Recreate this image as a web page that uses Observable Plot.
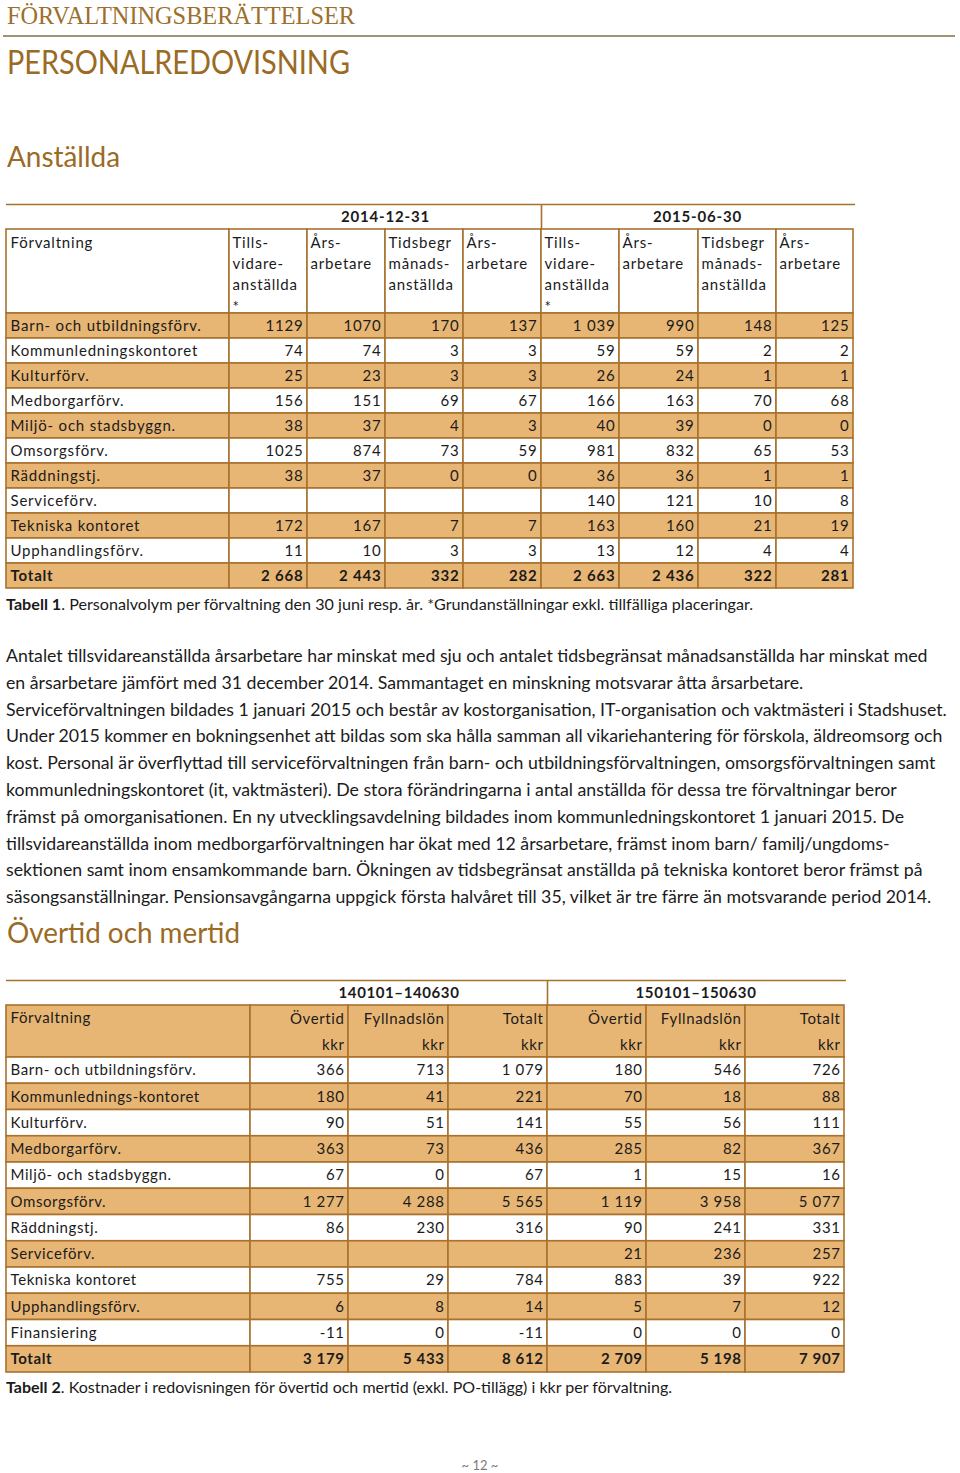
<!DOCTYPE html>
<html><head><meta charset="utf-8">
<script src="https://cdn.jsdelivr.net/npm/d3@7"></script>
<script src="https://cdn.jsdelivr.net/npm/@observablehq/plot@0.6"></script>
<style>
body{margin:0;background:#fff;}
#page{position:relative;width:960px;height:1473px;overflow:hidden;font-family:Lato,"Open Sans",sans-serif;color:#1b1b1b;background:#fff;}
.abs{position:absolute;white-space:nowrap;line-height:1;}
.mk{display:inline-block;width:0;height:0;vertical-align:baseline;}
svg{position:absolute;left:0;}
</style></head><body><div id="page"></div>
<script>
// ---------- DATA ----------
const groups1 = ["2014-12-31", "2015-06-30"];
const colHeads1 = ["Tills-\nvidare-\nanställda\n*", "Års-\narbetare", "Tidsbegr\nmånads-\nanställda", "Års-\narbetare"];
const forvaltningar1 = ["Barn- och utbildningsförv.", "Kommunledningskontoret", "Kulturförv.", "Medborgarförv.", "Miljö- och stadsbyggn.", "Omsorgsförv.", "Räddningstj.", "Serviceförv.", "Tekniska kontoret", "Upphandlingsförv.", "Totalt"];
const tillsvidare2014 = [1129, 74, 25, 156, 38, 1025, 38, null, 172, 11, 2668];
const arsarbetare2014a = [1070, 74, 23, 151, 37, 874, 37, null, 167, 10, 2443];
const tidsbegr2014 = [170, 3, 3, 69, 4, 73, 0, null, 7, 3, 332];
const arsarbetare2014b = [137, 3, 3, 67, 3, 59, 0, null, 7, 3, 282];
const tillsvidare2015 = [1039, 59, 26, 166, 40, 981, 36, 140, 163, 13, 2663];
const arsarbetare2015a = [990, 59, 24, 163, 39, 832, 36, 121, 160, 12, 2436];
const tidsbegr2015 = [148, 2, 1, 70, 0, 65, 1, 10, 21, 4, 322];
const arsarbetare2015b = [125, 2, 1, 68, 0, 53, 1, 8, 19, 4, 281];

const groups2 = ["140101–140630", "150101–150630"];
const colHeads2 = ["Övertid\nkkr", "Fyllnadslön\nkkr", "Totalt\nkkr"];
const forvaltningar2 = ["Barn- och utbildningsförv.", "Kommunlednings-kontoret", "Kulturförv.", "Medborgarförv.", "Miljö- och stadsbyggn.", "Omsorgsförv.", "Räddningstj.", "Serviceförv.", "Tekniska kontoret", "Upphandlingsförv.", "Finansiering", "Totalt"];
const overtid14 = [366, 180, 90, 363, 67, 1277, 86, null, 755, 6, -11, 3179];
const fyllnad14 = [713, 41, 51, 73, 0, 4288, 230, null, 29, 8, 0, 5433];
const totalt14 = [1079, 221, 141, 436, 67, 5565, 316, null, 784, 14, -11, 8612];
const overtid15 = [180, 70, 55, 285, 1, 1119, 90, 21, 883, 5, 0, 2709];
const fyllnad15 = [546, 18, 56, 82, 15, 3958, 241, 236, 39, 7, 0, 5198];
const totalt15 = [726, 88, 111, 367, 16, 5077, 331, 257, 922, 12, 0, 7907];

const paragraphLines = [
  "Antalet tillsvidareanställda årsarbetare har minskat med sju och antalet tidsbegränsat månadsanställda har minskat med",
  "en årsarbetare jämfört med 31 december 2014. Sammantaget en minskning motsvarar åtta årsarbetare.",
  "Serviceförvaltningen bildades 1 januari 2015 och består av kostorganisation, IT-organisation och vaktmästeri i Stadshuset.",
  "Under 2015 kommer en bokningsenhet att bildas som ska hålla samman all vikariehantering för förskola, äldreomsorg och",
  "kost. Personal är överflyttad till serviceförvaltningen från barn- och utbildningsförvaltningen, omsorgsförvaltningen samt",
  "kommunledningskontoret (it, vaktmästeri). De stora förändringarna i antal anställda för dessa tre förvaltningar beror",
  "främst på omorganisationen. En ny utvecklingsavdelning bildades inom kommunledningskontoret 1 januari 2015. De",
  "tillsvidareanställda inom medborgarförvaltningen har ökat med 12 årsarbetare, främst inom barn/ familj/ungdoms-",
  "sektionen samt inom ensamkommande barn. Ökningen av tidsbegränsat anställda på tekniska kontoret beror främst på",
  "säsongsanställningar. Pensionsavgångarna uppgick första halvåret till 35, vilket är tre färre än motsvarande period 2014."
];

// ---------- STYLE / LAYOUT ----------
const headColor = "#9b6a25";
const fillOrange = "#e8b674";
const border = "#a8722e";
const ink = "#1b1b1b";
const page = document.getElementById("page");

function addText(content, {left, baseline, size, family = "Lato", color = ink, weight = 400, width = null, center = false}) {
  const el = document.createElement("div");
  el.className = "abs";
  el.style.fontFamily = family;
  el.style.fontSize = size + "px";
  el.style.color = color;
  el.style.fontWeight = weight;
  el.innerHTML = content + '<span class="mk"></span>';
  el.style.left = left + "px";
  el.style.top = "0px";
  page.appendChild(el);
  const base = el.querySelector(".mk").getBoundingClientRect().top - el.getBoundingClientRect().top;
  el.style.top = (baseline - base) + "px";
  const w = el.getBoundingClientRect().width;
  if (width) { el.style.transformOrigin = "0 0"; el.style.transform = `scaleX(${width / w})`; }
  if (center) el.style.left = (left - w / 2) + "px";
  return el;
}

// Headings
addText("FÖRVALTNINGSBERÄTTELSER", {left: 7, baseline: 24, size: 26, family: "Liberation Serif", color: "#9c6f2c", width: 348});
const rule = document.createElement("div");
Object.assign(rule.style, {position: "absolute", left: "3px", top: "35px", width: "952px", height: "2px", background: "#a39274"});
page.appendChild(rule);
addText("PERSONALREDOVISNING", {left: 7, baseline: 74, size: 32, color: headColor, width: 343});
addText("Anställda", {left: 7, baseline: 167, size: 28, color: headColor, width: 113});
addText("Övertid och mertid", {left: 7, baseline: 943, size: 28, color: headColor, width: 233});

// Captions
addText("<b>Tabell 1</b>. Personalvolym per förvaltning den 30 juni resp. år. *Grundanställningar exkl. tillfälliga placeringar.", {left: 6, baseline: 610, size: 15, width: 747});
addText("<b>Tabell 2</b>. Kostnader i redovisningen för övertid och mertid (exkl. PO-tillägg) i kkr per förvaltning.", {left: 6, baseline: 1393, size: 15, width: 666});
addText("~ 12 ~", {left: 480, baseline: 1470, size: 13, color: "#7a7a7a", center: true});

// Paragraph
(function () {
  const probe = addText(paragraphLines[2], {left: 6, baseline: 0, size: 17});
  const w = probe.getBoundingClientRect().width;
  probe.remove();
  const size = 17 * 941 / w;
  paragraphLines.forEach((line, i) => addText(line, {left: 6, baseline: 662 + i * 26.8, size}));
})();

// Number formatting
const fmtGroup = d3.formatLocale({decimal: ",", thousands: " ", grouping: [3], currency: ["", " kr"], minus: "-"}).format(",d");
const fmtPlain = d3.format("d");

// ---------- TABLE 1 ----------
(function () {
  const top = 200, H = 392, W = 860;
  const edges = [6, 229, 307, 385, 463, 541, 619, 698, 776, 853];
  const groupY = [204, 229], headY = [229, 313], rowH = 25;
  const cols = [tillsvidare2014, arsarbetare2014a, tidsbegr2014, arsarbetare2014b, tillsvidare2015, arsarbetare2015a, tidsbegr2015, arsarbetare2015b];
  const nRows = forvaltningar1.length;
  const rects = [], texts = [];
  for (let c = 0; c < edges.length - 1; c++) rects.push({x1: edges[c], x2: edges[c + 1], y1: headY[0], y2: headY[1], fill: "white"});
  forvaltningar1.forEach((name, r) => {
    const y1 = headY[1] + r * rowH, y2 = y1 + rowH, fill = r % 2 === 0 ? fillOrange : "white";
    const bold = r === nRows - 1;
    for (let c = 0; c < edges.length - 1; c++) rects.push({x1: edges[c], x2: edges[c + 1], y1, y2, fill});
    texts.push({x: edges[0] + 4, y: (y1 + y2) / 2, text: name, anchor: "start", bold});
    cols.forEach((vals, c) => {
      const v = vals[r];
      if (v == null) return;
      const s = (c < 4 && !bold) ? fmtPlain(v) : fmtGroup(v);
      texts.push({x: edges[c + 2] - 4, y: (y1 + y2) / 2, text: s, anchor: "end", bold});
    });
  });
  const heads = [{x: edges[0] + 4, y: headY[0] + 3, text: "Förvaltning"}];
  for (let c = 0; c < 8; c++) heads.push({x: edges[c + 1] + 3, y: headY[0] + 3, text: colHeads1[c % 4]});
  const grp = groups1.map((g, i) => ({x: (edges[1 + 4 * i] + edges[5 + 4 * i]) / 2, y: (groupY[0] + groupY[1]) / 2, text: g}));
  const tf = {fontFamily: "Lato", fontSize: 15, fill: ink};
  const svg = Plot.plot({
    width: W, height: H, margin: 0,
    x: {domain: [0, W], range: [0, W], axis: null},
    y: {domain: [top, top + H], range: [0, H], axis: null},
    color: {type: "identity"},
    style: {letterSpacing: "0.8px", background: "transparent"},
    marks: [
      Plot.rect(rects, {x1: "x1", x2: "x2", y1: "y1", y2: "y2", fill: "fill", stroke: border, strokeWidth: 1.6}),
      Plot.ruleY([groupY[0]], {x1: edges[0], x2: edges[9] + 2, stroke: border, strokeWidth: 1.6}),
      Plot.ruleX([edges[5]], {y1: groupY[0], y2: groupY[1], stroke: border, strokeWidth: 1.6}),
      Plot.text(texts.filter(d => d.anchor === "start" && !d.bold), {x: "x", y: "y", text: "text", textAnchor: "start", ...tf}),
      Plot.text(texts.filter(d => d.anchor === "start" && d.bold), {x: "x", y: "y", text: "text", textAnchor: "start", fontWeight: "bold", ...tf}),
      Plot.text(texts.filter(d => d.anchor === "end" && !d.bold), {x: "x", y: "y", text: "text", textAnchor: "end", ...tf}),
      Plot.text(texts.filter(d => d.anchor === "end" && d.bold), {x: "x", y: "y", text: "text", textAnchor: "end", fontWeight: "bold", ...tf}),
      Plot.text(heads, {x: "x", y: "y", text: "text", textAnchor: "start", lineAnchor: "top", lineHeight: 1.42, ...tf}),
      Plot.text(grp, {x: "x", y: "y", text: "text", textAnchor: "middle", fontWeight: "bold", ...tf})
    ]
  });
  svg.style.top = top + "px";
  page.appendChild(svg);
})();

// ---------- TABLE 2 ----------
(function () {
  const top = 975, H = 402, W = 860;
  const edges = [6, 250, 348, 448, 547, 646, 745, 844];
  const groupY = [980, 1005], headY = [1005, 1057], rowH = 26.25;
  const cols = [overtid14, fyllnad14, totalt14, overtid15, fyllnad15, totalt15];
  const nRows = forvaltningar2.length;
  const rects = [], texts = [];
  for (let c = 0; c < edges.length - 1; c++) rects.push({x1: edges[c], x2: edges[c + 1], y1: headY[0], y2: headY[1], fill: fillOrange});
  forvaltningar2.forEach((name, r) => {
    const y1 = headY[1] + r * rowH, y2 = y1 + rowH, fill = r % 2 === 1 ? fillOrange : "white";
    const bold = r === nRows - 1;
    for (let c = 0; c < edges.length - 1; c++) rects.push({x1: edges[c], x2: edges[c + 1], y1, y2, fill: bold ? fillOrange : fill});
    texts.push({x: edges[0] + 4, y: (y1 + y2) / 2, text: name, anchor: "start", bold});
    cols.forEach((vals, c) => {
      const v = vals[r];
      if (v == null) return;
      texts.push({x: edges[c + 2] - 4, y: (y1 + y2) / 2, text: fmtGroup(v), anchor: "end", bold});
    });
  });
  const hMid = (headY[0] + headY[1]) / 2 - 3;
  const heads = [];
  for (let c = 0; c < 6; c++) heads.push({x: edges[c + 2] - 4, y: hMid, text: colHeads2[c % 3]});
  const grp = groups2.map((g, i) => ({x: (edges[1 + 3 * i] + edges[4 + 3 * i]) / 2, y: (groupY[0] + groupY[1]) / 2, text: g}));
  const tf = {fontFamily: "Lato", fontSize: 15, fill: ink};
  const svg = Plot.plot({
    width: W, height: H, margin: 0,
    x: {domain: [0, W], range: [0, W], axis: null},
    y: {domain: [top, top + H], range: [0, H], axis: null},
    color: {type: "identity"},
    style: {letterSpacing: "0.6px", background: "transparent"},
    marks: [
      Plot.rect(rects, {x1: "x1", x2: "x2", y1: "y1", y2: "y2", fill: "fill", stroke: border, strokeWidth: 1.6}),
      Plot.ruleY([groupY[0]], {x1: edges[0], x2: edges[7] + 2, stroke: border, strokeWidth: 1.6}),
      Plot.ruleX([edges[4]], {y1: groupY[0], y2: groupY[1], stroke: border, strokeWidth: 1.6}),
      Plot.text(texts.filter(d => d.anchor === "start" && !d.bold), {x: "x", y: "y", text: "text", textAnchor: "start", ...tf}),
      Plot.text(texts.filter(d => d.anchor === "start" && d.bold), {x: "x", y: "y", text: "text", textAnchor: "start", fontWeight: "bold", ...tf}),
      Plot.text(texts.filter(d => d.anchor === "end" && !d.bold), {x: "x", y: "y", text: "text", textAnchor: "end", ...tf}),
      Plot.text(texts.filter(d => d.anchor === "end" && d.bold), {x: "x", y: "y", text: "text", textAnchor: "end", fontWeight: "bold", ...tf}),
      Plot.text([{x: edges[0] + 4, y: headY[0] + 13, text: "Förvaltning"}], {x: "x", y: "y", text: "text", textAnchor: "start", ...tf}),
      Plot.text(heads, {x: "x", y: "y", text: "text", textAnchor: "end", lineAnchor: "middle", lineHeight: 1.73, ...tf}),
      Plot.text(grp, {x: "x", y: "y", text: "text", textAnchor: "middle", fontWeight: "bold", ...tf})
    ]
  });
  svg.style.top = top + "px";
  page.appendChild(svg);
})();
</script></body></html>
